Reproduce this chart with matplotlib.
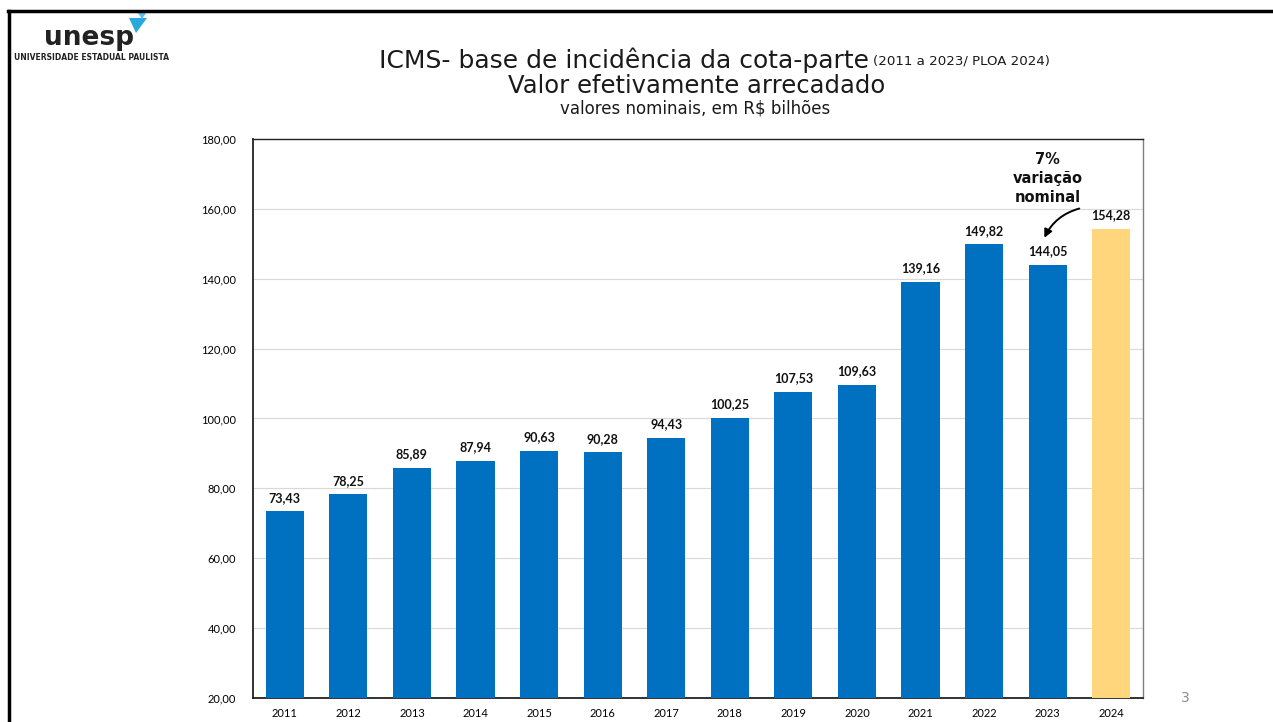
import matplotlib
matplotlib.use("Agg")
import matplotlib.pyplot as plt
from matplotlib.patches import Polygon
from matplotlib.lines import Line2D

years = ["2011", "2012", "2013", "2014", "2015", "2016", "2017", "2018", "2019",
         "2020", "2021", "2022", "2023", "2024"]
values = [73.43, 78.25, 85.89, 87.94, 90.63, 90.28, 94.43, 100.25, 107.53,
          109.63, 139.16, 149.82, 144.05, 154.28]
bar_colors = ["#0070C0"] * 13 + ["#FFD67B"]
y_ticks = [20, 40, 60, 80, 100, 120, 140, 160, 180]

W, H = 1273, 722
fig = plt.figure(figsize=(W / 100, H / 100), dpi=100)
fig.patch.set_facecolor("white")

# slide frame lines (top and left)
fig.add_artist(Line2D([8 / W, 1], [1 - 11 / H, 1 - 11 / H], color="black", lw=2.5,
                      transform=fig.transFigure))
fig.add_artist(Line2D([9 / W, 9 / W], [0, 1 - 11 / H], color="black", lw=2.5,
                      transform=fig.transFigure))

ax = fig.add_axes([253 / W, 1 - 698 / H, (1143 - 253) / W, (698 - 139) / H])
x = list(range(len(years)))
bars = ax.bar(x, values, width=0.6, color=bar_colors, zorder=3)
ax.set_ylim(20, 180)
ax.set_xlim(-0.5, len(years) - 0.5)
ax.set_yticks(y_ticks)
ax.set_yticklabels([f"{v:.2f}".replace(".", ",") for v in y_ticks],
                   fontsize=8, family="Lato")
ax.set_xticks(x)
ax.set_xticklabels(years, fontsize=8, family="Lato")
ax.tick_params(axis="y", length=0, pad=12)
ax.tick_params(axis="x", length=0, pad=7)
ax.grid(axis="y", color="#D9D9D9", lw=0.8, zorder=0)
for s in ["left", "bottom", "top"]:
    ax.spines[s].set_color("#222222")
ax.spines["left"].set_linewidth(1.3)
ax.spines["bottom"].set_linewidth(1.3)
ax.spines["top"].set_linewidth(1.0)
ax.spines["right"].set_color("#7F7F7F")
ax.spines["right"].set_linewidth(1.0)

for xi, v in zip(x, values):
    ax.text(xi, v + 2.2, f"{v:.2f}".replace(".", ","), ha="center", va="bottom",
            fontsize=9, fontweight="bold", family="Lato", color="#111111")

# annotation
ax.text(12.0, 176.3, "7%\nvariação\nnominal", ha="center", va="top", fontsize=10.5,
        fontweight="bold", family="DejaVu Sans", linespacing=1.35, color="#111111")
ax.annotate("", xy=(11.93, 151.0), xytext=(12.54, 160.3),
            arrowprops=dict(arrowstyle="-|>", color="black", lw=1.4,
                            connectionstyle="arc3,rad=0.25", mutation_scale=12))

# titles
tfam = ["DejaVu Sans"]
tcol = "#1a1a1a"
fig.text(869 / W, 1 - 60 / H, "ICMS- base de incidência da cota-parte", ha="right",
         va="center", fontsize=18, family=tfam, color=tcol)
fig.text(873 / W, 1 - 61 / H, "(2011 a 2023/ PLOA 2024)", ha="left", va="center",
         fontsize=9.6, family=tfam, color=tcol)
fig.text(697 / W, 1 - 86 / H, "Valor efetivamente arrecadado", ha="center",
         va="center", fontsize=17.5, family=tfam, color=tcol)
fig.text(695 / W, 1 - 109 / H, "valores nominais, em R$ bilhões", ha="center",
         va="center", fontsize=12, family=tfam, color=tcol)

# logo
fig.text(89 / W, 1 - 38 / H, "unesp", ha="center", va="center", fontsize=19,
         fontweight="bold", family="DejaVu Sans", color="#222222")
fig.text(91 / W, 1 - 57 / H, "UNIVERSIDADE ESTADUAL PAULISTA", ha="center",
         va="center", fontsize=5.5, fontweight="bold", family="DejaVu Sans",
         color="#222222")
tri = Polygon([[129 / W, 1 - 18 / H], [147 / W, 1 - 18 / H], [136 / W, 1 - 33 / H]],
              closed=True, transform=fig.transFigure, facecolor="#29A8E0",
              edgecolor="none")
fig.add_artist(tri)
tri2 = Polygon([[138 / W, 1 - 13 / H], [146 / W, 1 - 13 / H], [142 / W, 1 - 19 / H]],
               closed=True, transform=fig.transFigure, facecolor="#58C2EE",
               edgecolor="none")
fig.add_artist(tri2)

# page number
fig.text(1185 / W, 1 - 698 / H, "3", ha="center", va="center", fontsize=10,
         color="#8C8C8C", family="DejaVu Sans")

fig.savefig("out.png", dpi=100, facecolor="white")
